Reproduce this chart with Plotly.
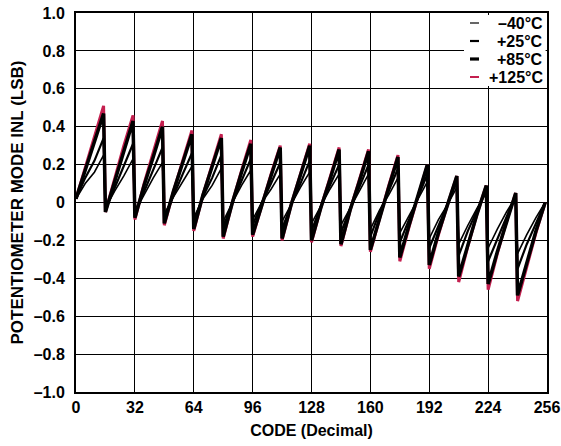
import plotly.graph_objects as go

CODES = [0, 5, 10, 15, 16, 21, 26, 31, 32, 37, 42, 47, 48, 53, 58, 63,
         64, 69, 74, 79, 80, 85, 90, 95, 96, 101, 106, 111, 112, 117, 122, 127,
         128, 133, 138, 143, 144, 149, 154, 159, 160, 165, 170, 175, 176, 181, 186, 191,
         192, 197, 202, 207, 208, 213, 218, 223, 224, 229, 234, 239, 240, 245, 250, 255]

INL_M40 = [0.02, 0.10, 0.16, 0.25, -0.03, 0.06, 0.14, 0.23, -0.05, 0.04, 0.13, 0.21, -0.06, 0.03, 0.11, 0.19,
           -0.08, 0.02, 0.09, 0.18, -0.10, 0.00, 0.09, 0.17, -0.09, 0.00, 0.07, 0.15, -0.10, -0.01, 0.08, 0.16,
           -0.11, -0.02, 0.07, 0.15, -0.12, -0.03, 0.06, 0.15, -0.14, -0.04, 0.04, 0.13, -0.16, -0.07, 0.02, 0.11,
           -0.19, -0.09, -0.01, 0.08, -0.22, -0.12, -0.03, 0.05, -0.24, -0.14, -0.05, 0.03, -0.27, -0.17, -0.08, 0.00]

INL_P25 = [0.02, 0.13, 0.22, 0.34, -0.04, 0.08, 0.19, 0.31, -0.06, 0.06, 0.18, 0.29, -0.08, 0.04, 0.15, 0.26,
           -0.10, 0.03, 0.13, 0.25, -0.13, 0.00, 0.12, 0.23, -0.12, 0.00, 0.10, 0.21, -0.14, -0.01, 0.10, 0.22,
           -0.15, -0.02, 0.09, 0.20, -0.16, -0.03, 0.08, 0.20, -0.18, -0.05, 0.06, 0.18, -0.21, -0.09, 0.03, 0.15,
           -0.24, -0.12, 0.00, 0.11, -0.28, -0.15, -0.04, 0.07, -0.31, -0.19, -0.07, 0.04, -0.35, -0.22, -0.11, 0.00]

INL_P85 = [0.02, 0.17, 0.32, 0.47, -0.05, 0.11, 0.27, 0.43, -0.08, 0.09, 0.24, 0.40, -0.11, 0.06, 0.21, 0.36,
           -0.14, 0.04, 0.19, 0.34, -0.18, 0.00, 0.16, 0.31, -0.17, -0.01, 0.14, 0.29, -0.19, -0.01, 0.14, 0.30,
           -0.20, -0.03, 0.12, 0.28, -0.22, -0.04, 0.11, 0.27, -0.25, -0.08, 0.08, 0.24, -0.29, -0.12, 0.04, 0.20,
           -0.33, -0.16, -0.01, 0.14, -0.39, -0.22, -0.06, 0.09, -0.43, -0.26, -0.10, 0.05, -0.49, -0.32, -0.15, 0.00]

INL_P125 = [0.02, 0.18, 0.35, 0.51, -0.05, 0.13, 0.30, 0.46, -0.09, 0.10, 0.26, 0.43, -0.12, 0.06, 0.22, 0.38,
            -0.15, 0.04, 0.20, 0.36, -0.19, 0.00, 0.17, 0.33, -0.18, -0.01, 0.15, 0.30, -0.20, -0.01, 0.15, 0.31,
            -0.21, -0.03, 0.13, 0.29, -0.23, -0.04, 0.12, 0.28, -0.26, -0.08, 0.09, 0.25, -0.31, -0.13, 0.04, 0.20,
            -0.35, -0.17, -0.01, 0.14, -0.42, -0.23, -0.06, 0.09, -0.46, -0.27, -0.10, 0.05, -0.52, -0.34, -0.16, 0.00]

X_TICKS = [0, 32, 64, 96, 128, 160, 192, 224, 256]
Y_TICKS = [1.0, 0.8, 0.6, 0.4, 0.2, 0, -0.2, -0.4, -0.6, -0.8, -1.0]
Y_TICKTEXT = ["1.0", "0.8", "0.6", "0.4", "0.2", "0", "\u20130.2", "\u20130.4", "\u20130.6", "\u20130.8", "\u20131.0"]

SERIES_NAMES = ["\u201340\u00b0C", "+25\u00b0C", "+85\u00b0C", "+125\u00b0C"]
RED = "#c41f4f"

FONT = "Arial, Liberation Sans, Helvetica, sans-serif"
FS = 16

L, R, T, B = 76, 14, 13, 54
PW = 561 - L - R
PH = 446 - T - B


def px_to_paper_x(px):
    return (px - L) / PW


def px_to_paper_y(py):
    return (446 - B - py) / PH


fig = go.Figure()
# draw order: red underneath, thick black on top
fig.add_trace(go.Scatter(x=CODES, y=INL_P125, mode="lines", name=SERIES_NAMES[3],
                         line=dict(color=RED, width=3)))
fig.add_trace(go.Scatter(x=CODES, y=INL_M40, mode="lines", name=SERIES_NAMES[0],
                         line=dict(color="black", width=1.6)))
fig.add_trace(go.Scatter(x=CODES, y=INL_P25, mode="lines", name=SERIES_NAMES[1],
                         line=dict(color="black", width=2.2)))
fig.add_trace(go.Scatter(x=CODES, y=INL_P85, mode="lines", name=SERIES_NAMES[2],
                         line=dict(color="black", width=3.5)))

# custom legend (short line symbols, right-aligned text)
shapes = [dict(type="rect", xref="paper", yref="paper", x0=px_to_paper_x(464), x1=0.997,
               y0=px_to_paper_y(86), y1=px_to_paper_y(15),
               fillcolor="white", line=dict(width=0), layer="above")]
annotations = []
row_px = [23, 41, 59, 77]
sym_styles = [("black", 1.2), ("black", 2.2), ("black", 3.2), (RED, 2)]
for name, py, (col, w) in zip(SERIES_NAMES, row_px, sym_styles):
    yp = px_to_paper_y(py)
    shapes.append(dict(type="line", xref="paper", yref="paper",
                       x0=px_to_paper_x(470), x1=px_to_paper_x(479), y0=yp, y1=yp,
                       line=dict(color=col, width=w), layer="above"))
    annotations.append(dict(text=name, xref="paper", yref="paper", x=px_to_paper_x(545), y=yp,
                            xanchor="right", yanchor="middle", showarrow=False,
                            font=dict(family=FONT, size=FS, color="black", weight="bold")))

fig.update_layout(
    width=561, height=446,
    margin=dict(l=L, r=R, t=T, b=B, autoexpand=False),
    paper_bgcolor="white", plot_bgcolor="white",
    showlegend=False,
    shapes=shapes, annotations=annotations,
    font=dict(family=FONT, size=FS, color="black", weight="bold"),
)
fig.update_xaxes(
    range=[0, 256], tickvals=X_TICKS, ticktext=[str(v) for v in X_TICKS],
    showgrid=True, gridcolor="black", gridwidth=1,
    showline=True, linecolor="black", linewidth=2, mirror=True,
    ticks="", zeroline=False, automargin=False, ticklabeloverflow="allow",
    tickfont=dict(family=FONT, size=FS, weight="bold"),
    title=dict(text="CODE (Decimal)", font=dict(family=FONT, size=FS, weight="bold"), standoff=10),
)
fig.update_yaxes(
    range=[-1, 1], tickvals=Y_TICKS, ticktext=Y_TICKTEXT,
    showgrid=True, gridcolor="black", gridwidth=1,
    showline=True, linecolor="black", linewidth=2, mirror=True,
    ticks="", zeroline=False, ticklabelstandoff=6, automargin=False,
    tickfont=dict(family=FONT, size=FS, weight="bold"),
    title=dict(text="POTENTIOMETER MODE INL (LSB)", font=dict(family=FONT, size=17, weight="bold"), standoff=6),
)

fig.write_html("out.html")
